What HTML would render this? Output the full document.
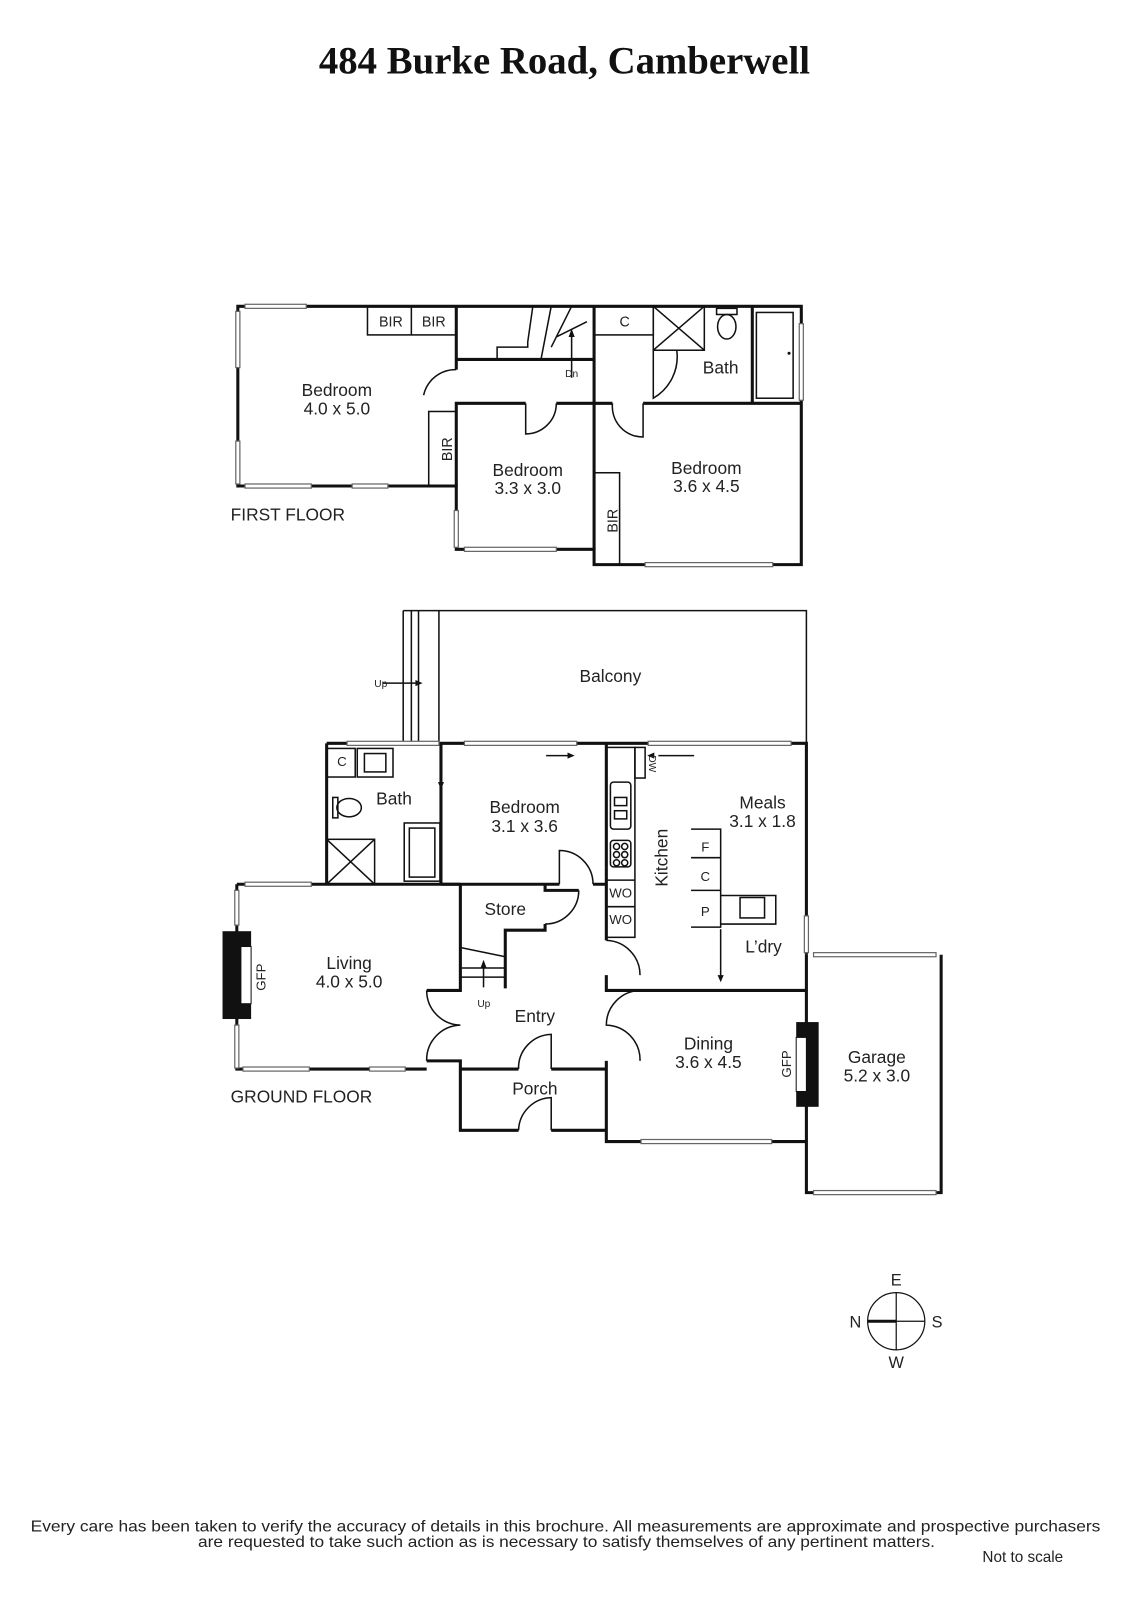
<!DOCTYPE html>
<html><head><meta charset="utf-8"><style>
html,body{margin:0;padding:0;background:#fff}
svg{display:block}
text{font-family:"Liberation Sans",sans-serif;fill:#222}
</style></head><body>
<svg width="1131" height="1600" viewBox="0 0 1108 1567" preserveAspectRatio="none" xmlns="http://www.w3.org/2000/svg">
<text x="553" y="72" text-anchor="middle" style="font-family:'Liberation Serif',serif;font-weight:bold;font-size:38px;fill:#111">484 Burke Road, Camberwell</text>

<!-- FIRST FLOOR -->
<g stroke="#111" fill="none" stroke-width="3">
<path d="M233 300 H785 V553 H582 V538 H447 V476 H233 Z"/>
<path d="M447 476 V395 H515 M545 395 H600 M630 395 H785"/>
<path d="M582 300 V395 M582 395 V538"/>
<path d="M447 300 V362"/>
<path d="M447 352 H582"/>
<path d="M737 300 V395"/>
</g>
<g stroke="#111" fill="none" stroke-width="1.5">
<rect x="360" y="300" width="87" height="28"/><line x1="403" y1="300" x2="403" y2="328"/>
<rect x="420" y="403" width="27" height="73"/>
<rect x="582" y="300" width="58" height="28"/>
<rect x="640" y="300" width="50" height="43"/><path d="M640 300 L690 343 M690 300 L640 343"/>
<rect x="741" y="306" width="36" height="84"/>
<ellipse cx="712" cy="320" rx="9" ry="12"/><rect x="702" y="302" width="20" height="6"/>
<rect x="582" y="463" width="25" height="90"/>
<path d="M415 387 A32 32 0 0 1 447 362"/>
<path d="M515 395 V425 A30 30 0 0 0 545 395"/>
<path d="M600 395 A30 30 0 0 0 630 428 V395"/>
<path d="M640 343 V390 A47 47 0 0 0 663 343"/>
<path d="M487 352 V340 H517 V335 L522 300 M530 352 L540 300 M540 340 L560 300 M545 330 L575 315"/>
<path d="M560 370 V325"/>
</g>
<polygon points="560,322 557,330 563,330" fill="#111"/>
<circle cx="773" cy="346" r="1.5" fill="#111"/>
<g fill="#fff" stroke="#666" stroke-width="1.2">
<rect x="240" y="298" width="60" height="4"/><rect x="231" y="305" width="4" height="55"/><rect x="231" y="432" width="4" height="42"/>
<rect x="240" y="474" width="65" height="4"/><rect x="345" y="474" width="35" height="4"/>
<rect x="445" y="500" width="4" height="36"/><rect x="455" y="536" width="90" height="4"/>
<rect x="632" y="551" width="125" height="4"/><rect x="783" y="317" width="4" height="75"/>
</g>
<g font-size="14" text-anchor="middle">
<text x="383" y="320">BIR</text><text x="425" y="320">BIR</text><text x="612" y="320">C</text>
<text x="560" y="369" font-size="10">Dn</text>
<text x="438" y="440" transform="rotate(-90 438 440)" dy="5">BIR</text>
<text x="600" y="510" transform="rotate(-90 600 510)" dy="5">BIR</text>
</g>
<g font-size="17" text-anchor="middle">
<text x="330" y="388">Bedroom</text><text x="330" y="406">4.0 x 5.0</text>
<text x="517" y="466">Bedroom</text><text x="517" y="484">3.3 x 3.0</text>
<text x="692" y="464">Bedroom</text><text x="692" y="482">3.6 x 4.5</text>
<text x="706" y="366">Bath</text>
<text x="226" y="510" text-anchor="start">FIRST FLOOR</text>
</g>

<!-- GROUND FLOOR -->
<g stroke="#111" fill="none" stroke-width="1.5">
<path d="M395 598 H790 V728 M395 598 V728 M403 598 V728 M410 598 V728 M430 598 V728"/>
</g>
<g stroke="#111" fill="none" stroke-width="3">
<path d="M320 728 H790 V935 M320 728 V866 M232 866 V1047 H418 M232 866 H451"/>
<path d="M432 728 V866 M594 728 V850"/>
<!-- store / bedroom bottom -->
<path d="M432 866 H548 M581 866 H594"/>
<path d="M534 866 V872 H567"/>
<path d="M534 905 V911 H495 V968"/>
<path d="M451 866 V970 H418 M418 1039 H451 V1107 H508 M540 1107 H594"/>
<path d="M451 1047 H508 M540 1047 H594"/>
<!-- right entry walls -->
<path d="M594 850 V921 M594 955 V970 H790 M594 1039 V1118 H790 V970 M790 935 V1168 H922 V935"/>
</g>
<g stroke="#111" fill="none" stroke-width="1.5">
<rect x="320" y="733" width="28" height="28"/><rect x="350" y="733" width="35" height="28"/><rect x="357" y="738" width="21" height="18"/>
<ellipse cx="342" cy="791" rx="12" ry="9"/><rect x="326" y="781" width="5" height="20"/>
<rect x="320" y="822" width="47" height="44"/><path d="M320 822 L367 866 M367 822 L320 866"/>
<rect x="396" y="806" width="35" height="57"/><rect x="401" y="811" width="25" height="48"/>
<rect x="594" y="732" width="28" height="186"/>
<rect x="598" y="766" width="20" height="46" rx="3"/><rect x="602" y="781" width="12" height="8"/><rect x="602" y="794" width="12" height="8"/>
<rect x="598" y="823" width="20" height="26" rx="3"/>
<circle cx="604" cy="829" r="3"/><circle cx="612" cy="829" r="3"/><circle cx="604" cy="837" r="3"/><circle cx="612" cy="837" r="3"/><circle cx="604" cy="845" r="3"/><circle cx="612" cy="845" r="3"/>
<line x1="594" y1="862" x2="622" y2="862"/><line x1="594" y1="888" x2="622" y2="888"/>
<rect x="622" y="732" width="10" height="30"/>
<path d="M677 812 H706 V908 H677 M677 840 H706 M677 872 H706"/>
<path d="M706 877 H760 V905 H706"/><rect x="725" y="879" width="24" height="20"/>
<!-- stairs -->
<path d="M451 928 L495 937 M451 948 H495 M451 957 H495"/>
<path d="M473.7 967 V945"/>
<!-- doors -->
<path d="M548 866 V833 A33 33 0 0 1 581 866"/>
<path d="M567 872 A33 33 0 0 1 534 905"/>
<path d="M594 921 A34 34 0 0 1 627 955"/>
<path d="M627 970 A34 34 0 0 0 594 1004 A34 34 0 0 1 627 1039"/>
<path d="M418 970 A34 34 0 0 0 451 1004 A34 34 0 0 0 418 1039"/>
<path d="M540 1047 V1013 A33 33 0 0 0 508 1047"/>
<path d="M540 1107 V1075 A33 33 0 0 0 508 1107"/>
<path d="M432 740 V776"/><path d="M535 740 H560"/><path d="M680 740 H645"/><path d="M706 910 V958"/>
<path d="M375 669 H410"/>
</g>
<g fill="#111">
<polygon points="473.7,940 470.7,948 476.7,948"/><polygon points="432,773 429,766 435,766"/><polygon points="563,740 556,737 556,743"/>
<polygon points="634,740 641,737 641,743"/><polygon points="706,962 703,955 709,955"/><polygon points="414,669 407,666 407,672"/>
<rect x="218" y="912" width="28" height="86"/><rect x="780" y="1001" width="22" height="83"/>
</g>
<rect x="236" y="927" width="10" height="56" fill="#fff" stroke="#111"/>
<rect x="780" y="1016" width="10" height="53" fill="#fff" stroke="#111"/>
<g fill="#fff" stroke="#666" stroke-width="1.2">
<rect x="340" y="726" width="90" height="4"/><rect x="455" y="726" width="110" height="4"/><rect x="635" y="726" width="140" height="4"/>
<rect x="240" y="864" width="65" height="4"/><rect x="230" y="872" width="4" height="34"/><rect x="230" y="1004" width="4" height="42"/>
<rect x="238" y="1045" width="65" height="4"/><rect x="362" y="1045" width="35" height="4"/>
<rect x="628" y="1116" width="128" height="4"/><rect x="788" y="897" width="4" height="36"/>
<rect x="797" y="933" width="120" height="4"/><rect x="797" y="1166" width="120" height="4"/>
</g>
<g font-size="13" text-anchor="middle">
<text x="335" y="750">C</text><text x="608" y="879">WO</text><text x="608" y="905">WO</text>
<text x="691" y="834">F</text><text x="691" y="863">C</text><text x="691" y="897">P</text>
<text x="373" y="673" font-size="10">Up</text><text x="474" y="986" font-size="10">Up</text>
<text x="636" y="748" font-size="10" transform="rotate(90 636 748)">DW</text>
<text x="260" y="957" transform="rotate(-90 260 957)">GFP</text>
<text x="775" y="1042" transform="rotate(-90 775 1042)">GFP</text>
</g>
<g font-size="17" text-anchor="middle">
<text x="598" y="668">Balcony</text>
<text x="386" y="788">Bath</text>
<text x="514" y="796">Bedroom</text><text x="514" y="815">3.1 x 3.6</text>
<text x="747" y="792">Meals</text><text x="747" y="810">3.1 x 1.8</text>
<text x="654" y="840" transform="rotate(-90 654 840)">Kitchen</text>
<text x="748" y="933">L’dry</text>
<text x="495" y="896">Store</text>
<text x="342" y="949">Living</text><text x="342" y="967">4.0 x 5.0</text>
<text x="524" y="1001">Entry</text>
<text x="524" y="1072">Porch</text>
<text x="694" y="1028">Dining</text><text x="694" y="1046">3.6 x 4.5</text>
<text x="859" y="1041">Garage</text><text x="859" y="1059">5.2 x 3.0</text>
<text x="226" y="1080" text-anchor="start">GROUND FLOOR</text>
</g>

<!-- compass -->
<g stroke="#111" fill="none" stroke-width="1.2">
<circle cx="878" cy="1294" r="28"/><line x1="878" y1="1266" x2="878" y2="1322"/><line x1="850" y1="1294" x2="906" y2="1294"/>
<line x1="850" y1="1294" x2="878" y2="1294" stroke-width="3"/>
</g>
<g font-size="16" text-anchor="middle">
<text x="878" y="1259">E</text><text x="878" y="1340">W</text><text x="838" y="1300">N</text><text x="918" y="1300">S</text>
</g>

<g font-size="15" text-anchor="middle">
<text x="554" y="1500" textLength="1048" lengthAdjust="spacingAndGlyphs">Every care has been taken to verify the accuracy of details in this brochure.  All measurements are approximate and prospective purchasers</text>
<text x="555" y="1515" textLength="722" lengthAdjust="spacingAndGlyphs">are requested to take such action as is necessary to satisfy themselves of any pertinent matters.</text>
<text x="1002" y="1530">Not to scale</text>
</g>
</svg>
</body></html>
